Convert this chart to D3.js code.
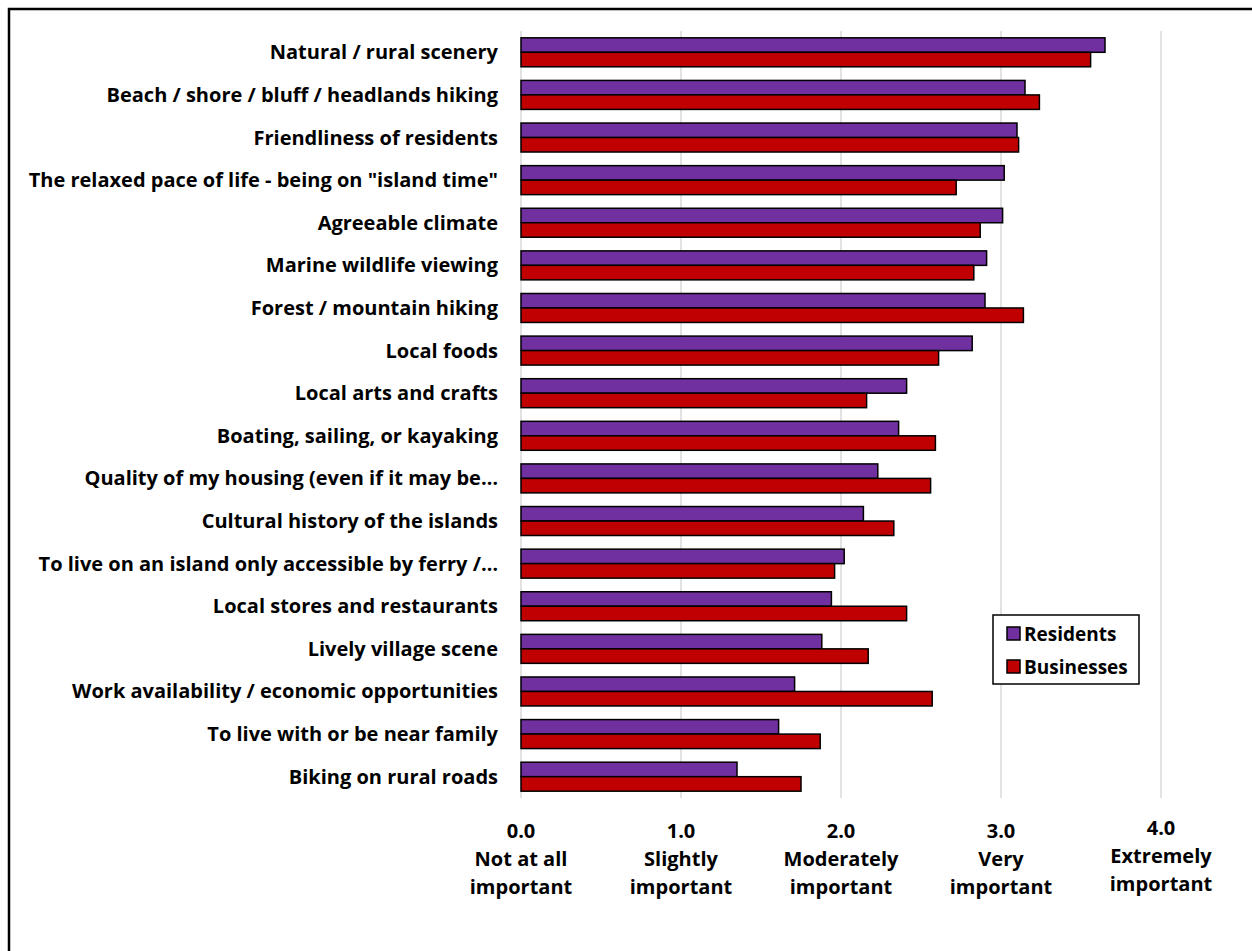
<!DOCTYPE html>
<html>
<head>
<meta charset="utf-8">
<script src="https://cdn.jsdelivr.net/npm/d3@7"></script>
<style>
  body { margin: 0; background: #fff; }
  text { font-family: "Open Sans", "Lato", sans-serif; font-weight: bold; fill: #000; }
</style>
</head>
<body>
<script>
let categories = [
  "Natural / rural scenery",
  "Beach / shore / bluff / headlands hiking",
  "Friendliness of residents",
  "The relaxed pace of life - being on \"island time\"",
  "Agreeable climate",
  "Marine wildlife viewing",
  "Forest / mountain hiking",
  "Local foods",
  "Local arts and crafts",
  "Boating, sailing, or kayaking",
  "Quality of my housing (even if it may be\u2026",
  "Cultural history of the islands",
  "To live on an island only accessible by ferry /\u2026",
  "Local stores and restaurants",
  "Lively village scene",
  "Work availability / economic opportunities",
  "To live with or be near family",
  "Biking on rural roads"
];
let residents = [3.65, 3.15, 3.10, 3.02, 3.01, 2.91, 2.90, 2.82, 2.41, 2.36, 2.23, 2.14, 2.02, 1.94, 1.88, 1.71, 1.61, 1.35];
let businesses = [3.56, 3.24, 3.11, 2.72, 2.87, 2.83, 3.14, 2.61, 2.16, 2.59, 2.56, 2.33, 1.96, 2.41, 2.17, 2.57, 1.87, 1.75];
let seriesNames = ["Residents", "Businesses"];
let seriesColors = ["#7030A0", "#C00000"];
let tickValues = [0, 1, 2, 3, 4];
let tickLabels = [
  ["0.0", "Not at all", "important"],
  ["1.0", "Slightly", "important"],
  ["2.0", "Moderately", "important"],
  ["3.0", "Very", "important"],
  ["4.0", "Extremely", "important"]
];

let svg = d3.select("body")
            .append("svg")
            .attr("width", 1252)
            .attr("height", 951);

// outer chart border (runs off the right and bottom of the picture)
svg.append("rect")
   .attr("x", 9).attr("y", 9)
   .attr("width", 1260).attr("height", 960)
   .attr("fill", "none")
   .attr("stroke", "#000")
   .attr("stroke-width", 2.5);

let x = d3.scaleLinear().domain([0, 4]).range([521, 1161]);
let y = d3.scaleBand().domain(categories).range([31, 798]).paddingInner(0.32).paddingOuter(0.16);
let ySub = d3.scaleBand().domain(seriesNames).range([0, y.bandwidth()]);

// gridlines
svg.selectAll("line.grid")
   .data(tickValues)
   .enter()
   .append("line")
   .attr("class", "grid")
   .attr("x1", d => x(d)).attr("x2", d => x(d))
   .attr("y1", 31).attr("y2", 798)
   .attr("stroke", "#d9d9d9")
   .attr("stroke-width", 1.5);

let rows = categories.map((c, i) => ({ cat: c, vals: [residents[i], businesses[i]] }));

let groups = svg.selectAll("g.row")
   .data(rows)
   .enter()
   .append("g")
   .attr("class", "row")
   .attr("transform", d => "translate(0," + y(d.cat) + ")");

groups.selectAll("rect")
   .data(d => d.vals.map((v, i) => ({ name: seriesNames[i], v: v, color: seriesColors[i] })))
   .enter()
   .append("rect")
   .attr("x", x(0))
   .attr("y", d => ySub(d.name))
   .attr("width", d => x(d.v) - x(0))
   .attr("height", ySub.bandwidth())
   .attr("fill", d => d.color)
   .attr("stroke", "#000")
   .attr("stroke-width", 1.5);

// category labels
svg.selectAll("text.cat")
   .data(categories)
   .enter()
   .append("text")
   .attr("class", "cat")
   .attr("x", 498)
   .attr("y", d => y(d) + y.bandwidth() / 2 + 7)
   .attr("text-anchor", "end")
   .style("font-size", "20px")
   .text(d => d);

// x tick labels
let tl = svg.selectAll("text.tick")
   .data(tickValues)
   .enter()
   .append("text")
   .attr("class", "tick")
   .attr("text-anchor", "middle")
   .style("font-size", "20px");
tl.each(function(d, i) {
  let t = d3.select(this);
  let top = i == 4 ? 835 : 838;
  tickLabels[i].forEach((s, j) => {
    t.append("tspan").attr("x", x(d)).attr("y", top + j * 28).text(s);
  });
});

// legend
let lg = svg.append("g").attr("transform", "translate(993,615)");
lg.append("rect")
  .attr("width", 146).attr("height", 69)
  .attr("fill", "#fff").attr("stroke", "#000").attr("stroke-width", 1.5);
seriesNames.forEach((s, i) => {
  lg.append("rect")
    .attr("x", 14).attr("y", 12 + i * 33)
    .attr("width", 13).attr("height", 13)
    .attr("fill", seriesColors[i]).attr("stroke", "#000").attr("stroke-width", 1.5);
  lg.append("text")
    .attr("x", 31).attr("y", 26 + i * 33)
    .style("font-size", "19px")
    .text(s);
});
</script>
</body>
</html>
